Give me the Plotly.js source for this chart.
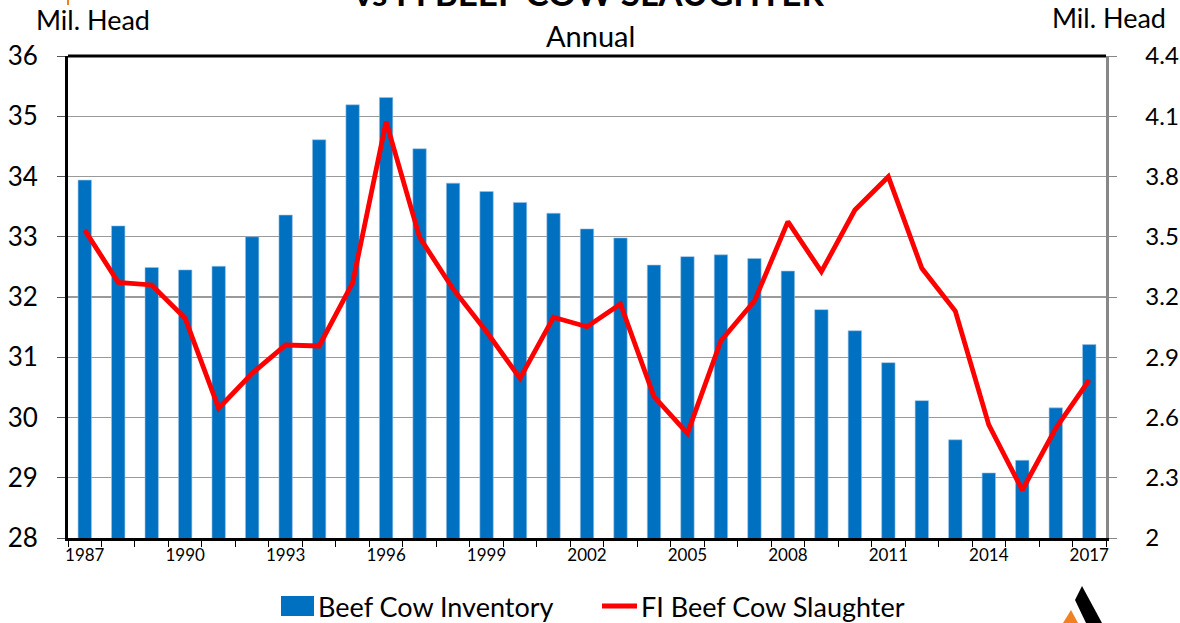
<!DOCTYPE html>
<html>
<head>
<meta charset="utf-8">
<script src="https://cdn.plot.ly/plotly-3.0.1.min.js"></script>
<style>html,body{margin:0;padding:0;background:#fff;}#chart{width:1180px;height:623px;}</style>
</head>
<body>
<div id="chart"></div>
<script>
const years = [1987,1988,1989,1990,1991,1992,1993,1994,1995,1996,1997,1998,1999,2000,2001,2002,2003,2004,2005,2006,2007,2008,2009,2010,2011,2012,2013,2014,2015,2016,2017];
const beefCowInventory = [33.94,33.18,32.49,32.45,32.51,33.00,33.36,34.61,35.19,35.31,34.46,33.89,33.75,33.57,33.39,33.13,32.98,32.53,32.67,32.70,32.64,32.43,31.79,31.44,30.91,30.28,29.63,29.08,29.29,30.16,31.21];
const fiBeefCowSlaughter = [3.533,3.273,3.260,3.094,2.646,2.820,2.961,2.956,3.270,4.073,3.497,3.240,3.027,2.795,3.099,3.052,3.165,2.704,2.521,2.982,3.180,3.575,3.326,3.633,3.799,3.343,3.130,2.563,2.239,2.546,2.787];
const xTickLabels = [1987,1990,1993,1996,1999,2002,2005,2008,2011,2014,2017];
const leftTicks = [28,29,30,31,32,33,34,35,36];
const rightTicks = [2,2.3,2.6,2.9,3.2,3.5,3.8,4.1,4.4];
const seriesNames = ['Beef Cow Inventory','FI Beef Cow Slaughter'];

const FONT = 'Lato, "Open Sans", sans-serif';
const BLUE = '#0070C0', RED = '#FF0000';
const L = 68, R = 1106, T = 56, B = 538;
const px = x => (x - L) / (R - L);
const py = y => (B - y) / (B - T);

const traces = [
  {type:'bar', x: years, y: beefCowInventory, name:seriesNames[0],
   marker:{color:BLUE, line:{color:'#9DC3E6', width:0.6}}, width:0.4, yaxis:'y'},
  {type:'scatter', mode:'lines', x: years, y: fiBeefCowSlaughter, name:seriesNames[1],
   line:{color:RED, width:4.8}, yaxis:'y2'}
];

const layout = {
  width:1180, height:623,
  margin:{l:L, r:1180-R, t:T, b:623-B, autoexpand:false},
  paper_bgcolor:'#fff', plot_bgcolor:'#fff',
  font:{family:FONT, color:'#000'},
  showlegend:false,
  xaxis:{range:[1986.5,2017.5], tickvals:xTickLabels, ticktext:xTickLabels.map(String),
         ticks:'', tickfont:{size:17}, showgrid:false, zeroline:false,
         showline:true, linecolor:'#000', linewidth:3, mirror:false, automargin:false,
         minor:{tick0:1986.5, dtick:1, ticks:'outside', ticklen:6, tickcolor:'#000', tickwidth:1, showgrid:false}},
  yaxis:{range:[28,36], tickvals:leftTicks, ticks:'outside', ticklen:8, tickcolor:'#555', automargin:false,
         tickfont:{size:26}, showgrid:true, gridcolor:'#9a9a9a', gridwidth:1.3, zeroline:false,
         showline:true, linecolor:'#000', linewidth:3, ticklabelstandoff:14},
  yaxis2:{range:[2,4.4], tickvals:rightTicks, ticktext:rightTicks.map(String), overlaying:'y', side:'right',
          ticks:'outside', ticklen:8, tickcolor:'#888', tickfont:{size:24}, showgrid:false, zeroline:false, automargin:false,
          showline:true, linecolor:'#888', linewidth:2.5, ticklabelstandoff:24},
  shapes:[
    {type:'line', xref:'paper', yref:'paper', x0:0, x1:1, y0:1, y1:1, line:{color:'#000', width:3}},
    {type:'line', xref:'paper', yref:'paper', x0:px(68), x1:px(68), y0:py(0), y1:py(5), line:{color:'#F08020', width:2}},
    // legend swatches
    {type:'rect', xref:'paper', yref:'paper', x0:px(281), x1:px(314), y0:py(596), y1:py(616),
     fillcolor:BLUE, line:{width:0}},
    {type:'line', xref:'paper', yref:'paper', x0:px(602), x1:px(637), y0:py(606), y1:py(606),
     line:{color:RED, width:4.8}},
    // logo
    {type:'path', xref:'paper', yref:'paper',
     path:`M ${px(1082)} ${py(586)} L ${px(1102)} ${py(623)} L ${px(1086)} ${py(623)} L ${px(1075)} ${py(600)} Z`,
     fillcolor:'#000', line:{width:0}},
    {type:'path', xref:'paper', yref:'paper',
     path:`M ${px(1071)} ${py(610)} L ${px(1078)} ${py(623)} L ${px(1063)} ${py(623)} Z`,
     fillcolor:'#F08020', line:{width:0}}
  ],
  annotations:[
    {text:'<b>vs FI BEEF COW SLAUGHTER</b>', xref:'paper', yref:'paper', x:px(589), y:py(15),
     xanchor:'center', yanchor:'bottom', showarrow:false, font:{size:35, family:FONT}},
    {text:'Annual', xref:'paper', yref:'paper', x:px(590), y:py(36), xanchor:'center', yanchor:'middle',
     showarrow:false, font:{size:29, family:FONT}},
    {text:'Mil. Head', xref:'paper', yref:'paper', x:px(93), y:py(19), xanchor:'center', yanchor:'middle',
     showarrow:false, font:{size:27, family:FONT}},
    {text:'Mil. Head', xref:'paper', yref:'paper', x:px(1109), y:py(17), xanchor:'center', yanchor:'middle',
     showarrow:false, font:{size:27, family:FONT}},
    {text:seriesNames[0], xref:'paper', yref:'paper', x:px(316), y:py(606), xanchor:'left', yanchor:'middle',
     showarrow:false, font:{size:27, family:FONT}},
    {text:seriesNames[1], xref:'paper', yref:'paper', x:px(639), y:py(606), xanchor:'left', yanchor:'middle',
     showarrow:false, font:{size:27, family:FONT}}
  ]
};

Plotly.newPlot('chart', traces, layout, {displayModeBar:false, staticPlot:true});
</script>
</body>
</html>
